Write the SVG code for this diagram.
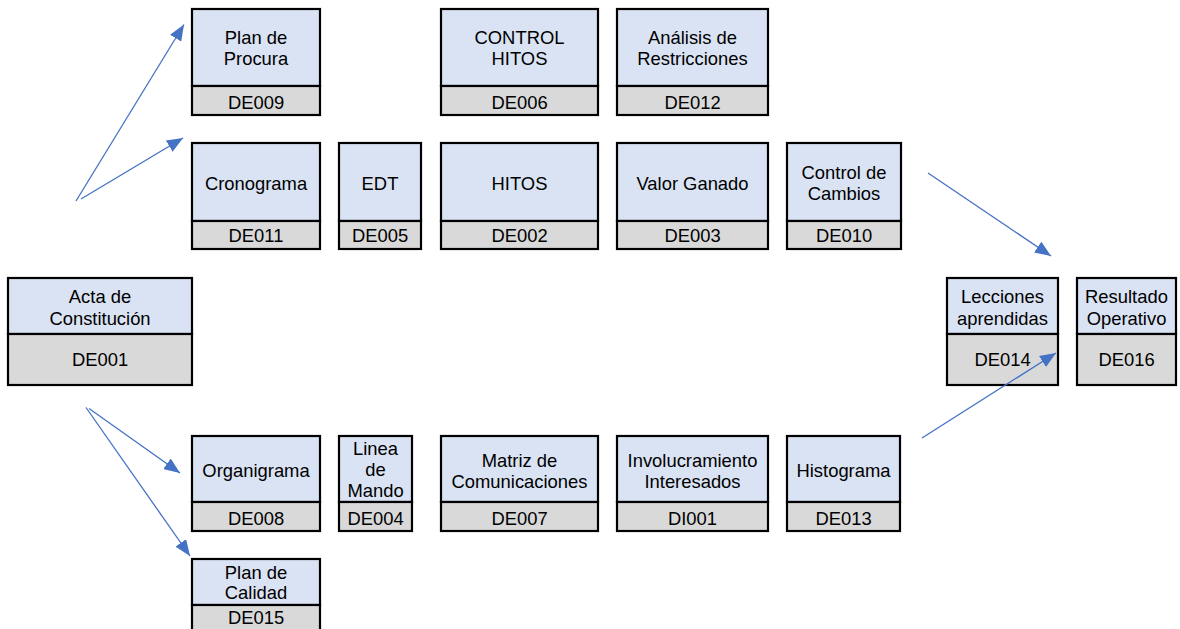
<svg xmlns="http://www.w3.org/2000/svg" width="1180" height="629" viewBox="0 0 1180 629">
  <style>
    .top { fill: #dae3f3; stroke: #000; stroke-width: 2.2; }
    .bot { fill: #d9d9d9; stroke: #000; stroke-width: 2.2; }
    text { font-family: "Liberation Sans", Arial, sans-serif; font-size: 18.4px; fill: #000; text-anchor: middle; }
    .conn { stroke: #4472c4; stroke-width: 1.3; fill: none; marker-end: url(#head); }
  </style>
  <defs>
    <marker id="head" markerUnits="userSpaceOnUse" viewBox="0 0 16 13" refX="16" refY="6.5" markerWidth="16" markerHeight="13" orient="auto">
      <path d="M0,0 L16,6.5 L0,13 z" fill="#4472c4"/>
    </marker>
  </defs>
  <rect width="1180" height="629" fill="#fff"/>

  <!-- row 1 -->
  <g id="de009">
    <rect class="top" x="192" y="9" width="128" height="77"/>
    <rect class="bot" x="192" y="86" width="128" height="29"/>
    <text x="256" y="44">Plan de</text>
    <text x="256" y="65">Procura</text>
    <text x="256" y="109">DE009</text>
  </g>
  <g id="de006">
    <rect class="top" x="441" y="9" width="157" height="77"/>
    <rect class="bot" x="441" y="86" width="157" height="29"/>
    <text x="519.5" y="44">CONTROL</text>
    <text x="519.5" y="65">HITOS</text>
    <text x="519.5" y="109">DE006</text>
  </g>
  <g id="de012">
    <rect class="top" x="617" y="9" width="151" height="77"/>
    <rect class="bot" x="617" y="86" width="151" height="29"/>
    <text x="692.5" y="44">Análisis de</text>
    <text x="692.5" y="65">Restricciones</text>
    <text x="692.5" y="109">DE012</text>
  </g>

  <!-- row 2 -->
  <g id="de011">
    <rect class="top" x="192" y="143" width="128" height="78"/>
    <rect class="bot" x="192" y="221" width="128" height="28"/>
    <text x="256" y="189.5">Cronograma</text>
    <text x="256" y="241.5">DE011</text>
  </g>
  <g id="de005">
    <rect class="top" x="339" y="143" width="82" height="78"/>
    <rect class="bot" x="339" y="221" width="82" height="28"/>
    <text x="380" y="189.5">EDT</text>
    <text x="380" y="241.5">DE005</text>
  </g>
  <g id="de002">
    <rect class="top" x="441" y="143" width="157" height="78"/>
    <rect class="bot" x="441" y="221" width="157" height="28"/>
    <text x="519.5" y="189.5">HITOS</text>
    <text x="519.5" y="241.5">DE002</text>
  </g>
  <g id="de003">
    <rect class="top" x="617" y="143" width="151" height="78"/>
    <rect class="bot" x="617" y="221" width="151" height="28"/>
    <text x="692.5" y="189.5">Valor Ganado</text>
    <text x="692.5" y="241.5">DE003</text>
  </g>
  <g id="de010">
    <rect class="top" x="787" y="143" width="114" height="78"/>
    <rect class="bot" x="787" y="221" width="114" height="28"/>
    <text x="844" y="179">Control de</text>
    <text x="844" y="200">Cambios</text>
    <text x="844" y="241.5">DE010</text>
  </g>

  <!-- middle row -->
  <g id="de001">
    <rect class="top" x="8" y="278" width="184" height="56"/>
    <rect class="bot" x="8" y="334" width="184" height="51"/>
    <text x="100" y="303">Acta de</text>
    <text x="100" y="324.5">Constitución</text>
    <text x="100" y="366">DE001</text>
  </g>
  <g id="de014">
    <rect class="top" x="947" y="278" width="111" height="56"/>
    <rect class="bot" x="947" y="334" width="111" height="51"/>
    <text x="1002.5" y="302.5">Lecciones</text>
    <text x="1002.5" y="324.5">aprendidas</text>
    <text x="1002.5" y="366">DE014</text>
  </g>
  <g id="de016">
    <rect class="top" x="1077" y="278" width="99" height="56"/>
    <rect class="bot" x="1077" y="334" width="99" height="51"/>
    <text x="1126.5" y="302.5">Resultado</text>
    <text x="1126.5" y="324.5">Operativo</text>
    <text x="1126.5" y="366">DE016</text>
  </g>

  <!-- bottom row -->
  <g id="de008">
    <rect class="top" x="192" y="436" width="128" height="66"/>
    <rect class="bot" x="192" y="502" width="128" height="29"/>
    <text x="256" y="476.5">Organigrama</text>
    <text x="256" y="524.5">DE008</text>
  </g>
  <g id="de004">
    <rect class="top" x="339" y="436" width="73" height="66"/>
    <rect class="bot" x="339" y="502" width="73" height="29"/>
    <text x="375.5" y="454.5">Linea</text>
    <text x="375.5" y="475.5">de</text>
    <text x="375.5" y="496.5">Mando</text>
    <text x="375.5" y="524.5">DE004</text>
  </g>
  <g id="de007">
    <rect class="top" x="441" y="436" width="157" height="66"/>
    <rect class="bot" x="441" y="502" width="157" height="29"/>
    <text x="519.5" y="466.5">Matriz de</text>
    <text x="519.5" y="487.5">Comunicaciones</text>
    <text x="519.5" y="524.5">DE007</text>
  </g>
  <g id="di001">
    <rect class="top" x="617" y="436" width="151" height="66"/>
    <rect class="bot" x="617" y="502" width="151" height="29"/>
    <text x="692.5" y="466.5">Involucramiento</text>
    <text x="692.5" y="487.5">Interesados</text>
    <text x="692.5" y="524.5">DI001</text>
  </g>
  <g id="de013">
    <rect class="top" x="787" y="436" width="113" height="66"/>
    <rect class="bot" x="787" y="502" width="113" height="29"/>
    <text x="843.5" y="476.5">Histograma</text>
    <text x="843.5" y="524.5">DE013</text>
  </g>
  <g id="de015">
    <rect class="top" x="192" y="559" width="128" height="46"/>
    <rect class="bot" x="192" y="605" width="128" height="30"/>
    <text x="256" y="578.5">Plan de</text>
    <text x="256" y="599">Calidad</text>
    <text x="256" y="624">DE015</text>
  </g>

  <!-- connectors -->
  <g id="connectors">
    <line class="conn" x1="76" y1="201" x2="184" y2="24.5"/>
    <line class="conn" x1="81" y1="199" x2="183" y2="138"/>
    <line class="conn" x1="89" y1="408.5" x2="180" y2="473"/>
    <line class="conn" x1="86" y1="407.5" x2="190" y2="556"/>
    <line class="conn" x1="928" y1="173" x2="1051" y2="256"/>
    <line class="conn" x1="922" y1="438" x2="1056" y2="353"/>
  </g>
</svg>
